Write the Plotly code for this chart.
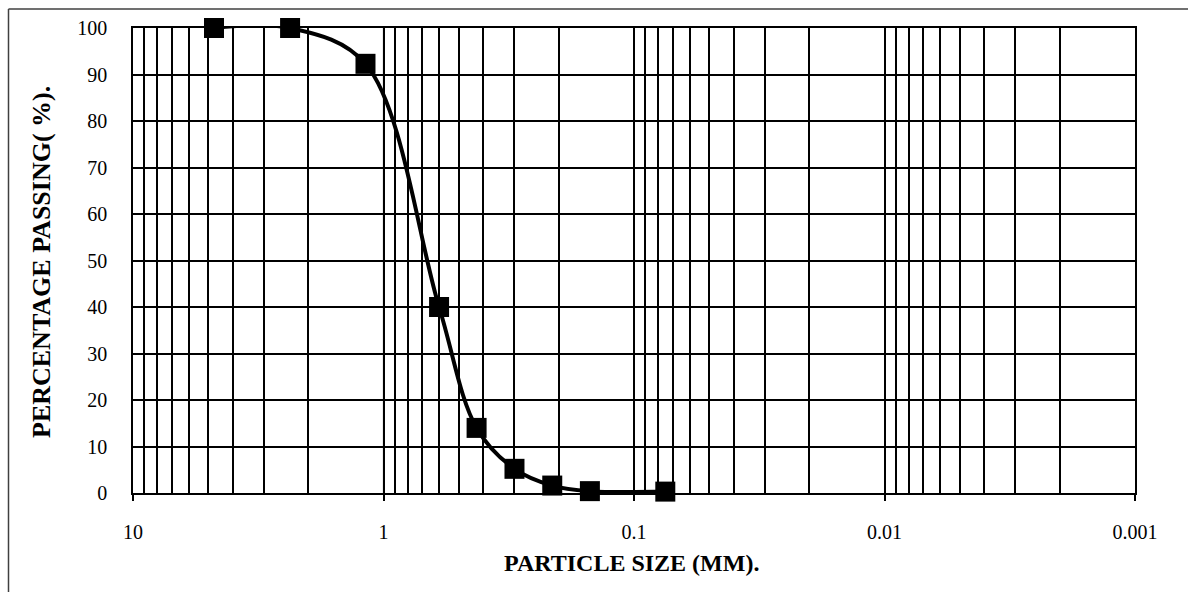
import plotly.graph_objects as go

# Data (sieve sizes in mm, percentage passing)
particle_size = [4.75, 2.36, 1.18, 0.6, 0.425, 0.3, 0.212, 0.15, 0.075]
percent_passing = [100, 100, 92.3, 40, 14, 5.2, 1.6, 0.4, 0.3]

x_major = [10, 1, 0.1, 0.01, 0.001]
x_major_text = ["10", "1", "0.1", "0.01", "0.001"]
x_minor = [m * 10 ** e for e in range(-3, 1) for m in range(2, 10)]
y_ticks = list(range(0, 101, 10))

W, H = 1189, 593
L, R, T, B = 133, 54, 28, 100
pw, ph = W - L - R, H - T - B

def px_x(p):
    return (p - L) / pw

def px_y(p):
    return (H - B - p) / ph

FONT = "Liberation Serif, Times New Roman, serif"
GW = 1.5

fig = go.Figure()
fig.add_trace(go.Scatter(
    x=particle_size, y=percent_passing,
    mode="lines+markers",
    line=dict(color="black", width=4, shape="spline", smoothing=1.0),
    marker=dict(symbol="square", size=20, color="black"),
    cliponaxis=False,
    showlegend=False,
))

fig.update_layout(
    width=W, height=H,
    margin=dict(l=L, r=R, t=T, b=B, autoexpand=False),
    paper_bgcolor="white", plot_bgcolor="white",
    font=dict(family=FONT, color="black", size=20),
    xaxis=dict(
        type="log", range=[1, -3],
        tickvals=x_major, ticktext=x_major_text,
        showgrid=True, gridcolor="black", gridwidth=GW,
        minor=dict(tickvals=x_minor, showgrid=True, gridcolor="black", gridwidth=GW, ticks=""),
        showline=True, linecolor="black", linewidth=GW, mirror=True,
        ticks="outside", ticklen=6, tickcolor="black", tickwidth=GW,
        ticklabelstandoff=14,
        tickfont=dict(family=FONT, size=20, color="black"),
        zeroline=False,
    ),
    yaxis=dict(
        range=[0, 100], tickvals=y_ticks,
        showgrid=True, gridcolor="black", gridwidth=GW,
        showline=True, linecolor="black", linewidth=GW, mirror=True,
        ticks="", ticklabelstandoff=20,
        tickfont=dict(family=FONT, size=20, color="black"),
        zeroline=False,
    ),
)

# grey gridline at 1
fig.add_shape(type="line", xref="x", yref="paper", x0=1, x1=1, y0=0, y1=1,
              line=dict(color="#b8b8b8", width=1.6), layer="between")

# outer chart border (left and top)
fig.add_shape(type="line", xref="paper", yref="paper",
              x0=px_x(8.5), x1=px_x(8.5), y0=px_y(9), y1=px_y(592),
              line=dict(color="#404040", width=1.5), layer="above")
fig.add_shape(type="line", xref="paper", yref="paper",
              x0=px_x(8.5), x1=px_x(1188), y0=px_y(9), y1=px_y(9),
              line=dict(color="#404040", width=1.5), layer="above")

# axis titles
fig.add_annotation(text="<b>PARTICLE SIZE (MM).</b>", xref="paper", yref="paper",
                   x=px_x(631), y=px_y(563), showarrow=False,
                   font=dict(family=FONT, size=24, color="black"),
                   xanchor="center", yanchor="middle")
fig.add_annotation(text="<b>PERCENTAGE PASSING( %).</b>", xref="paper", yref="paper",
                   x=px_x(41), y=px_y(262), showarrow=False, textangle=-90,
                   font=dict(family=FONT, size=26, color="black"),
                   xanchor="center", yanchor="middle")

fig.write_html("out.html", config={"displayModeBar": False},
               post_script="document.body.style.margin='0';")
